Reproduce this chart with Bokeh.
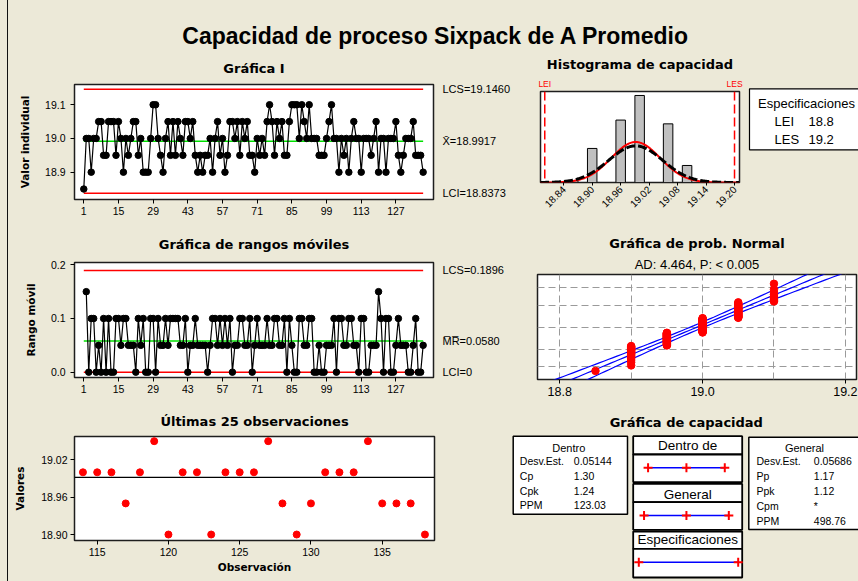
import math
import numpy as np
from statistics import NormalDist
from bokeh.plotting import figure
from bokeh.layouts import column, row
from bokeh.models import Range1d, FixedTicker, LinearAxis, NumeralTickFormatter, Span, Title, Grid
from bokeh.core.properties import value
from bokeh.embed import file_html
from bokeh.resources import INLINE

# ---------------- data ----------------
chart_title = "Capacidad de proceso Sixpack de A Promedio"
values = [
    18.85, 19.00, 19.00, 18.90, 19.00, 19.00, 19.05, 19.05, 18.95, 18.95,
    19.05, 19.05, 19.05, 18.95, 19.05, 19.00, 18.90, 19.00, 18.95, 19.00,
    19.05, 19.05, 18.95, 19.00, 18.90, 18.90, 18.90, 19.00, 19.10, 19.10,
    19.00, 18.95, 18.90, 19.00, 19.05, 18.95, 19.05, 18.95, 19.05, 19.00,
    18.95, 19.05, 19.05, 19.00, 19.05, 18.95, 18.90, 18.95, 18.90, 18.95,
    18.95, 19.00, 18.90, 19.00, 19.05, 18.95, 19.00, 18.90, 18.95, 19.05,
    19.05, 19.00, 19.05, 18.95, 19.05, 19.00, 19.05, 18.95, 18.95, 18.90,
    19.00, 18.95, 19.00, 18.95, 19.05, 19.10, 19.05, 18.95, 19.05, 19.00,
    19.05, 18.95, 18.95, 19.05, 19.10, 19.10, 19.10, 19.00, 19.10, 19.05,
    19.00, 19.10, 19.00, 19.00, 19.00, 18.95, 18.95, 18.95, 19.00, 19.05,
    19.10, 19.00, 19.00, 18.90, 19.00, 18.95, 19.00, 18.90, 19.00, 19.05,
    19.00, 19.00, 18.90, 19.00, 19.00, 19.00, 18.95, 19.00, 19.05, 18.90,
    19.00, 19.00, 18.90, 19.00, 19.00, 19.00, 19.05, 18.95, 18.90, 18.95,
    19.00, 19.00, 19.00, 19.05, 18.95, 18.95, 18.95, 18.90,
]
observations = list(range(1, len(values) + 1))
LSL = 18.8
USL = 19.2
i_chart_xticks = [1, 15, 29, 43, 57, 71, 85, 99, 113, 127]
i_chart_yticks = [18.9, 19.0, 19.1]
mr_chart_yticks = [0.0, 0.1, 0.2]
hist_ticks = [18.84, 18.90, 18.96, 19.02, 19.08, 19.14, 19.20]
hist_bin_start = 18.79
hist_bin_width = 0.02
prob_ticks = [18.8, 19.0, 19.2]
prob_xgrid = [18.8, 18.9, 19.0, 19.1, 19.2]
prob_pct_grid = [1, 10, 50, 90, 99]
ad_text = "AD: 4.464, P: < 0.005"
last_n = 25
last_xticks = [115, 120, 125, 130, 135]
last_yticks = [18.90, 18.96, 19.02]
within_labels = ["Desv.Est.", "Cp", "Cpk", "PPM"]
within_values = ["0.05144", "1.30", "1.24", "123.03"]
overall_labels = ["Desv.Est.", "Pp", "Ppk", "Cpm", "PPM"]
overall_values = ["0.05686", "1.17", "1.12", "*", "498.76"]
cap_headers = ["Dentro de", "General", "Especificaciones"]

# ---------------- statistics ----------------
vals = np.array(values)
obs = np.array(observations)
n = len(vals)
mean = vals.mean()
mr = np.abs(np.diff(vals))
mr_obs = obs[1:]
mr_bar = mr.mean()
sigma_w = mr_bar / 1.128
sigma_o = vals.std(ddof=1)
ucl = mean + 3 * sigma_w
lcl = mean - 3 * sigma_w
mr_ucl = 3.267 * mr_bar

# ---------------- styling ----------------
BG = "#ECE9D8"
REG = "Liberation Sans"
BF = "DejaVu Sans"
RED = "#FF0000"
GREEN = "#00E000"
BLUE = "#0000FF"


def no_align(p):
    try:
        p.frame_align = False
    except Exception:
        pass


def style_axis(ax, size="10.5px"):
    ax.axis_line_color = None
    ax.major_tick_line_color = "black"
    ax.major_tick_out = 4
    ax.major_tick_in = 0
    ax.minor_tick_line_color = None
    ax.major_label_text_font = REG
    ax.major_label_text_font_size = size
    ax.major_label_text_color = "black"
    ax.major_label_standoff = 3
    ax.axis_label_text_font = BF
    ax.axis_label_text_font_style = "bold"
    ax.axis_label_text_font_size = "10.5px"
    ax.axis_label_text_color = "black"


def data_fig(w, h, xr, yr, left, right, top, bottom, xaxis=True, yaxis=True):
    p = figure(width=w, height=h, x_range=xr, y_range=yr, output_backend="svg",
               toolbar_location=None, title=None,
               x_axis_type="linear" if xaxis else None,
               y_axis_type="linear" if yaxis else None,
               min_border_left=left, min_border_right=right,
               min_border_top=top, min_border_bottom=bottom)
    no_align(p)
    p.background_fill_color = "white"
    p.border_fill_color = BG
    p.border_fill_alpha = 0
    p.outline_line_color = "#1e1e1e"
    p.outline_line_width = 1.5
    p.grid.visible = False
    for ax in p.axis:
        style_axis(ax)
    return p


def add_title(p, text, standoff, font=BF, style="bold", size="13px"):
    t = Title(text=text, align="center", text_font=font, text_font_style=style,
              text_font_size=size, standoff=standoff, text_color="black")
    p.add_layout(t, "above")


def pix_fig(w, h):
    p = figure(width=w, height=h, x_range=Range1d(0, w), y_range=Range1d(h, 0),
               output_backend="svg", toolbar_location=None, title=None,
               x_axis_type=None, y_axis_type=None,
               min_border_left=0, min_border_right=0, min_border_top=0, min_border_bottom=0)
    no_align(p)
    p.background_fill_color = BG
    p.background_fill_alpha = 0
    p.border_fill_color = BG
    p.border_fill_alpha = 0
    p.outline_line_color = None
    p.grid.visible = False
    return p


def txt(p, x, y, t, size, align="left", font=REG, style="normal", color="black", **kw):
    p.text(x=x, y=y, text=t, text_font=value(font), text_font_size=value(size),
           text_font_style=style, text_align=align, text_baseline="middle",
           text_color=color, **kw)


def right_label_axis(p, ticks, labels):
    ax = LinearAxis(ticker=FixedTicker(ticks=ticks),
                    major_label_overrides=dict(zip(ticks, labels)))
    style_axis(ax, "11px")
    ax.major_tick_line_color = None
    ax.major_tick_out = 0
    ax.major_label_standoff = 9
    p.add_layout(ax, "right")


# ---------------- title strip ----------------
fT = pix_fig(858, 49)
txt(fT, [435.5], [35], [chart_title], "23px", align="center", style="bold")

# ---------------- I chart ----------------
fI = data_fig(530, 173, Range1d(-2.75, 142.18), Range1d(18.819, 19.160), 74, 97, 35, 23)
fI.xaxis.ticker = FixedTicker(ticks=i_chart_xticks)
fI.yaxis.ticker = FixedTicker(ticks=i_chart_yticks)
fI.yaxis.formatter = NumeralTickFormatter(format="0.0")
fI.yaxis.major_label_standoff = 5
fI.yaxis.axis_label = "Valor individual"
fI.yaxis.axis_label_standoff = 11
fI.line([obs[0], obs[-1]], [ucl, ucl], line_color=RED, line_width=1.5)
fI.line([obs[0], obs[-1]], [lcl, lcl], line_color=RED, line_width=1.5)
fI.line([obs[0], obs[-1]], [mean, mean], line_color=GREEN, line_width=1.5)
fI.line(obs, vals, line_color="black", line_width=1.2)
fI.scatter(obs, vals, size=6.5, color="black")
right_label_axis(fI, [round(ucl, 4), round(mean, 4), round(lcl, 4)],
                 [f"LCS={ucl:.4f}", f"X\u0304={mean:.4f}", f"LCI={lcl:.4f}"])
add_title(fI, "Gráfica I", 17)

# ---------------- histogram ----------------
fH = data_fig(215, 173, Range1d(18.791, 19.2105), Range1d(0, 48.1), 10, 6, 42, 40, yaxis=False)
idx = np.floor((vals - hist_bin_start) / hist_bin_width + 1e-6).astype(int)
counts = np.bincount(idx)
nz = np.nonzero(counts)[0]
lefts = hist_bin_start + nz * hist_bin_width
fH.quad(left=lefts, right=lefts + hist_bin_width, bottom=0, top=counts[nz],
        fill_color="#C0C0C0", line_color="black", line_width=1)
xs = np.linspace(18.79, 19.21, 300)
scale = n * hist_bin_width
pdf_w = scale * np.exp(-0.5 * ((xs - mean) / sigma_w) ** 2) / (sigma_w * math.sqrt(2 * math.pi))
pdf_o = scale * np.exp(-0.5 * ((xs - mean) / sigma_o) ** 2) / (sigma_o * math.sqrt(2 * math.pi))
fH.line(xs, pdf_w, line_color=RED, line_width=2)
fH.line(xs, pdf_o, line_color="black", line_width=3, line_dash="9 3")
for loc in (LSL, USL):
    fH.add_layout(Span(location=loc, dimension="height", line_color=RED,
                       line_dash="9 4", line_width=1.5))
fH.xaxis.ticker = FixedTicker(ticks=hist_ticks)
fH.xaxis.formatter = NumeralTickFormatter(format="0.00")
fH.xaxis.major_label_orientation = math.pi / 4
fH.xaxis.major_label_text_font_size = "10px"
fH.xaxis.major_tick_out = 3
fH.xaxis.major_label_standoff = 2
top_ax = LinearAxis(ticker=FixedTicker(ticks=[LSL, USL]),
                    major_label_overrides={LSL: "LEI", USL: "LES"})
style_axis(top_ax, "8.5px")
top_ax.major_label_text_color = RED
top_ax.major_tick_line_color = None
top_ax.major_tick_out = 0
top_ax.major_label_standoff = 3
fH.add_layout(top_ax, "above")
add_title(fH, "Histograma de capacidad", 8)

# ---------------- specification box ----------------
fS = pix_fig(113, 173)
fS.quad(left=[4], right=[130], top=[39.3], bottom=[100.3], fill_color="white",
        line_color="black", line_width=1.2)
txt(fS, [61], [54.3], ["Especificaciones"], "13px", align="center")
txt(fS, [29, 29], [71.7, 90], ["LEI", "LES"], "13px")
txt(fS, [63, 63], [71.7, 90], [f"{LSL:.1f}", f"{USL:.1f}"], "13px")

# ---------------- moving range chart ----------------
fM = data_fig(530, 180, Range1d(-2.75, 142.18), Range1d(-0.0099, 0.2043), 74, 97, 40, 25)
fM.xaxis.ticker = FixedTicker(ticks=i_chart_xticks)
fM.yaxis.ticker = FixedTicker(ticks=mr_chart_yticks)
fM.yaxis.formatter = NumeralTickFormatter(format="0.0")
fM.yaxis.major_label_standoff = 5
fM.yaxis.axis_label = "Rango móvil"
fM.yaxis.axis_label_standoff = 11
fM.line([obs[0], obs[-1]], [mr_ucl, mr_ucl], line_color=RED, line_width=1.5)
fM.line([obs[0], obs[-1]], [0, 0], line_color=RED, line_width=1.5)
fM.line([obs[0], obs[-1]], [mr_bar, mr_bar], line_color=GREEN, line_width=1.5)
fM.line(mr_obs, mr, line_color="black", line_width=1.2)
fM.scatter(mr_obs, mr, size=6.5, color="black")
right_label_axis(fM, [round(mr_ucl, 4), round(mr_bar, 4), 0.0],
                 [f"LCS={mr_ucl:.4f}", f"M\u0305R\u0305={mr_bar:.4f}", "LCI=0"])
add_title(fM, "Gráfica de rangos móviles", 21)

# ---------------- normal probability plot ----------------
fN = data_fig(328, 180, Range1d(18.7688, 19.2156), Range1d(-3.08, 3.12), 7, 2, 52, 23, yaxis=False)
nd = NormalDist()
sorted_vals = np.sort(vals)
zpos = np.array([nd.inv_cdf((i - 0.3) / (n + 0.4)) for i in range(1, n + 1)])
zgrid = np.linspace(-3.4, 3.4, 69)
fit = mean + sigma_o * zgrid
band = 1.96 * sigma_o * np.sqrt(1.0 / n + zgrid ** 2 / (2 * (n - 1)))
fN.xgrid.visible = True
fN.xgrid.ticker = FixedTicker(ticks=prob_xgrid)
fN.xgrid.grid_line_color = "#9a9a9a"
fN.xgrid.grid_line_dash = "7 4"
fN.add_layout(Grid(dimension=1, ticker=FixedTicker(ticks=[nd.inv_cdf(q / 100) for q in prob_pct_grid]),
                   grid_line_color="#9a9a9a", grid_line_dash="7 4"))
for xl in (fit, fit - band, fit + band):
    fN.line(xl, zgrid, line_color=BLUE, line_width=1.2)
fN.scatter(sorted_vals, zpos, size=7.5, color=RED)
fN.xaxis.ticker = FixedTicker(ticks=prob_ticks)
fN.xaxis.formatter = NumeralTickFormatter(format="0.0")
fN.xaxis.major_label_text_font_size = "12.5px"
add_title(fN, ad_text, 6, font=REG, style="normal", size="13px")
add_title(fN, "Gráfica de prob. Normal", 1)

# ---------------- last 25 observations ----------------
l_obs = obs[-last_n:]
l_vals = vals[-last_n:]
fL = data_fig(505, 179, Range1d(113.407, 138.67), Range1d(18.8904, 19.0575), 74, 71, 34, 41)
fL.xaxis.ticker = FixedTicker(ticks=last_xticks)
fL.yaxis.ticker = FixedTicker(ticks=last_yticks)
fL.yaxis.formatter = NumeralTickFormatter(format="0.00")
fL.yaxis.major_label_standoff = 3
fL.xaxis.axis_label = "Observación"
fL.xaxis.axis_label_standoff = 2
fL.yaxis.axis_label = "Valores"
fL.yaxis.axis_label_standoff = 12
fL.add_layout(Span(location=mean, dimension="width", line_color="black", line_width=1.2))
fL.scatter(l_obs, l_vals, size=7, color=RED)
add_title(fL, "Últimas 25 observaciones", 15)

# ---------------- capability plot ----------------
cap_px_lsl, cap_px_usl = 133.3, 232.7
px_per_unit = (cap_px_usl - cap_px_lsl) / (USL - LSL)
CW, CH = 353, 179
spec_x0 = LSL - cap_px_lsl / px_per_unit
spec_x1 = spec_x0 + CW / px_per_unit
fC = pix_fig(CW, CH)
fC.extra_x_ranges = {"spec": Range1d(spec_x0, spec_x1)}
txt(fC, [180.8], [19.5], ["Gráfica de capacidad"], "13px", align="center", font=BF, style="bold")
# within table
fC.quad(left=[7.7], right=[122], top=[33.7], bottom=[111.7], fill_color="white",
        line_color="black", line_width=1.5)
txt(fC, [63.3], [45.7], ["Dentro"], "11px", align="center")
wy = [58.7, 73.3, 88.0, 102.7]
txt(fC, [14.3] * 4, wy, within_labels, "10.5px")
txt(fC, [68.3] * 4, wy, within_values, "10.5px")
# overall table
fC.quad(left=[243.3], right=[370], top=[34.7], bottom=[127], fill_color="white",
        line_color="black", line_width=1.5)
txt(fC, [299], [45.3], ["General"], "11px", align="center")
oy = [58.7, 73.7, 88.3, 103.0, 118.3]
txt(fC, [251] * 5, oy, overall_labels, "10.5px")
txt(fC, [308.3] * 5, oy, overall_values, "10.5px")
# middle boxes
hdr_top = [33.7, 81.3, 129.0]
hdr_bot = [52.0, 99.7, 146.3]
body_bot = [79.7, 127.3, 175.0]
fC.quad(left=[127.7] * 3, right=[236.7] * 3, top=hdr_top, bottom=hdr_bot,
        fill_color="white", line_color="black", line_width=1.8)
fC.quad(left=[127.7] * 3, right=[236.7] * 3, top=hdr_bot, bottom=body_bot,
        fill_color="white", line_color="black", line_width=1.8)
txt(fC, [182.2] * 3, [43.0, 91.8, 137.3], cap_headers, "13.5px", align="center")
line_y = [65.3, 113.0, 159.7]
segs = [
    [mean - 3 * sigma_w, mean, mean + 3 * sigma_w],
    [mean - 3 * sigma_o, mean, mean + 3 * sigma_o],
    [LSL, USL],
]
for yv, seg in zip(line_y, segs):
    fC.line([seg[0], seg[-1]], [yv, yv], line_color=BLUE, line_width=1.6, x_range_name="spec")
    fC.scatter(seg, [yv] * len(seg), marker="cross", size=9, line_width=2,
               line_color=RED, x_range_name="spec")

layout = column(
    fT,
    row(fI, fH, fS),
    row(fM, fN),
    row(fL, fC),
    styles={"background": f"linear-gradient(to right, {BG} 7px, #111111 7px, #111111 8px, {BG} 8px)"},
)

open("out.html", "w").write(file_html(layout, INLINE))
